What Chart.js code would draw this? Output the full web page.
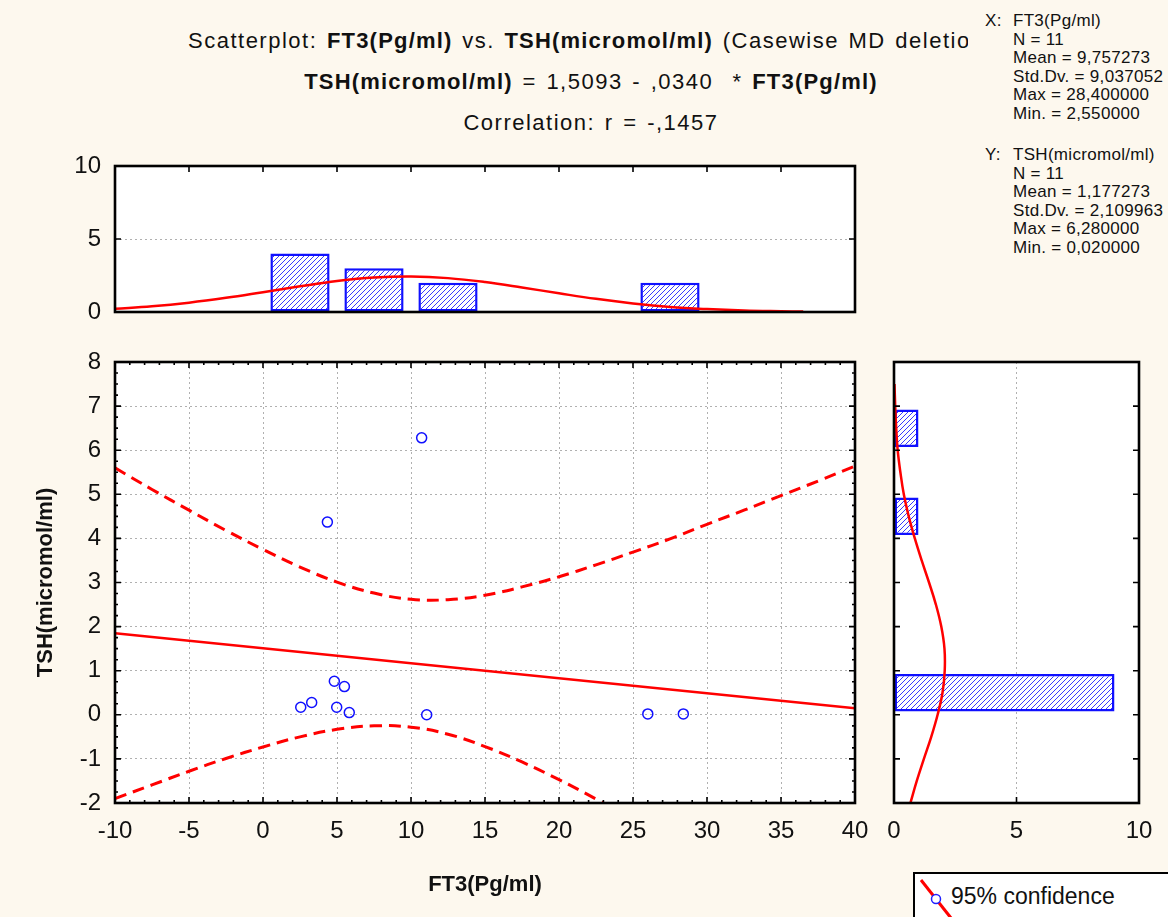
<!DOCTYPE html>
<html>
<head>
<meta charset="utf-8">
<script src="https://cdn.jsdelivr.net/npm/chart.js@4.4.1/dist/chart.umd.min.js"></script>
<style>
  body { margin: 0; background: #fdf8ee; }
  #page { position: relative; width: 1168px; height: 917px; overflow: hidden; background: #fdf8ee;
          font-family: 'Liberation Sans', Arial, sans-serif; color: #111; }
  .cv { position: absolute; }
  .title { position: absolute; font-size: 22px; line-height: 26px; letter-spacing: 1.5px; word-spacing: 2px; white-space: nowrap; }
  .title b { font-weight: bold; letter-spacing: 1.2px; }
  .stats { position: absolute; font-size: 17px; line-height: 18.5px; white-space: nowrap; letter-spacing: 0.3px; }
  .legend { position: absolute; left: 913px; top: 872px; width: 280px; height: 60px; border: 2px solid #000; background: #fff; }
  .legend span { position: absolute; left: 36px; top: 9px; font-size: 23px; }
  .legend svg { position: absolute; left: 2px; top: 2px; }
</style>
</head>
<body>
<div id="page">
  <div class="title" style="left:188px;top:28px;width:780px;overflow:hidden;">Scatterplot: <b>FT3(Pg/ml)</b> vs. <b>TSH(micromol/ml)</b> (Casewise MD deletion)</div>
  <div class="title" style="left:0;width:1182px;text-align:center;top:69px;"><b>TSH(micromol/ml)</b> = 1,5093 - ,0340&nbsp; * <b>FT3(Pg/ml)</b></div>
  <div class="title" style="left:0;width:1182px;text-align:center;top:110px;">Correlation: r = -,1457</div>

  <div class="stats" style="left:985px;top:12px;">X:</div>
  <div class="stats" style="left:1013px;top:12px;">FT3(Pg/ml)<br>N = 11<br>Mean = 9,757273<br>Std.Dv. = 9,037052<br>Max = 28,400000<br>Min. = 2,550000</div>
  <div class="stats" style="left:985px;top:146px;">Y:</div>
  <div class="stats" style="left:1013px;top:146px;">TSH(micromol/ml)<br>N = 11<br>Mean = 1,177273<br>Std.Dv. = 2,109963<br>Max = 6,280000<br>Min. = 0,020000</div>

  <div class="cv" style="left:0;top:140px;"><canvas id="topHist" width="870" height="200"></canvas></div>
  <div class="cv" style="left:0;top:340px;"><canvas id="scatter" width="870" height="577"></canvas></div>
  <div class="cv" style="left:870px;top:340px;"><canvas id="sideHist" width="298" height="577"></canvas></div>

  <div class="legend">
    <svg width="36" height="44"><line x1="4" y1="4" x2="34" y2="42" stroke="#ff0000" stroke-width="3"/><circle cx="19" cy="23" r="4.5" fill="#fff" stroke="#2020ff" stroke-width="1.5"/></svg>
    <span>95% confidence</span>
  </div>
</div>
<script>
// scatter data
const ft3 = [10.72, 4.35, 4.82, 5.5, 2.55, 3.29, 4.98, 5.83, 11.06, 26.0, 28.4];
const tsh = [6.28, 4.37, 0.76, 0.64, 0.17, 0.28, 0.17, 0.05, 0.0, 0.02, 0.02];

// regression line + 95% band
const fitX = [-10, 40];
const fitY = [1.849, 0.149];
const bandX = [-10, -7.5, -5, -2.5, 0, 2.5, 5, 7.5, 10, 12.5, 15, 17.5, 20, 22.5, 25, 27.5, 30, 32.5, 35, 37.5, 40];
const bandUpper = [5.60, 5.11, 4.64, 4.18, 3.75, 3.35, 3.01, 2.76, 2.62, 2.61, 2.71, 2.90, 3.13, 3.40, 3.69, 3.99, 4.32, 4.64, 4.97, 5.30, 5.64];
const bandLower = [-1.90, -1.59, -1.28, -0.99, -0.73, -0.50, -0.33, -0.25, -0.28, -0.44, -0.72, -1.07, -1.47, -1.91, -2.38, -2.85];

// histogram of FT3 (top)
const topBins = [-7.5, -2.5, 2.5, 7.5, 12.5, 17.5, 22.5, 27.5, 32.5, 37.5];
const topCounts = [0, 0, 4, 3, 2, 0, 0, 2, 0, 0];
const topCurveX = [-10, -7.5, -5, -2.5, 0, 2.5, 5, 7.5, 10, 12.5, 15, 17.5, 20, 22.5, 25, 27.5, 30, 32.5, 35, 36.5];
const topCurveY = [0.22, 0.39, 0.64, 0.97, 1.36, 1.76, 2.12, 2.36, 2.43, 2.32, 2.05, 1.68, 1.28, 0.90, 0.59, 0.35, 0.20, 0.10, 0.05, 0.03];

// histogram of TSH (right)
const sideBins = [-1.5, -0.5, 0.5, 1.5, 2.5, 3.5, 4.5, 5.5, 6.5, 7.5];
const sideCounts = [0, 0, 9, 0, 0, 0, 1, 0, 1, 0];
const sideCurveY = [-2, -1.5, -1, -0.5, 0, 0.5, 1, 1.5, 2, 2.5, 3, 3.5, 4, 4.5, 5, 5.5, 6, 6.5, 7, 7.5];
const sideCurveX = [0.67, 0.93, 1.22, 1.52, 1.78, 1.98, 2.07, 2.06, 1.93, 1.71, 1.43, 1.13, 0.85, 0.60, 0.40, 0.26, 0.15, 0.09, 0.05, 0.02];

// tick labels
const mainXTicks = [-10, -5, 0, 5, 10, 15, 20, 25, 30, 35, 40];
const mainYTicks = [-2, -1, 0, 1, 2, 3, 4, 5, 6, 7, 8];
const topYTicks = [0, 5, 10];
const sideXTicks = [0, 5, 10];

const RED = '#ff0000';
const BLUE = '#1010ff';
const tickFont = { family: "'Liberation Sans', Arial, sans-serif", size: 24 };
const titleFont = { family: "'Liberation Sans', Arial, sans-serif", size: 22, weight: 'bold' };
const grid = { color: '#b0b0b0', lineWidth: 1, drawTicks: false };
const border = { display: false, dash: [2, 3] };

function fixedTicks(list) {
    return function(scale) { scale.ticks = list.map(v => ({ value: v })); };
}

// blue diagonal hatching on white
function hatch() {
    const c = document.createElement('canvas');
    c.width = 5; c.height = 5;
    const g = c.getContext('2d');
    g.fillStyle = '#ffffff';
    g.fillRect(0, 0, 5, 5);
    g.fillStyle = '#3a3aff';
    for (let i = 0; i < 5; i++) g.fillRect(i, 4 - i, 1, 1);
    return g.createPattern(c, 'repeat');
}

// white plot area, black frame and inward tick marks
const frame = {
    id: 'frame',
    beforeDraw(chart) {
        const a = chart.chartArea, ctx = chart.ctx;
        ctx.save();
        ctx.fillStyle = '#ffffff';
        ctx.fillRect(a.left, a.top, a.right - a.left, a.bottom - a.top);
        ctx.restore();
    },
    afterDraw(chart, args, opts) {
        const a = chart.chartArea, ctx = chart.ctx;
        ctx.save();
        ctx.strokeStyle = '#000';
        ctx.lineWidth = 1.6;
        (opts.marks || []).forEach(m => {
            const sc = chart.scales[m.axis];
            const n = Math.round((sc.max - sc.min) / m.step);
            for (let i = 0; i <= n; i++) {
                const v = sc.min + i * m.step;
                const p = sc.getPixelForValue(v);
                const r = v / m.major;
                const len = Math.abs(r - Math.round(r)) < 1e-6 ? 6 : 3;
                ctx.beginPath();
                m.sides.forEach(s => {
                    if (s === 'top') { ctx.moveTo(p, a.top); ctx.lineTo(p, a.top + len); }
                    if (s === 'bottom') { ctx.moveTo(p, a.bottom); ctx.lineTo(p, a.bottom - len); }
                    if (s === 'left') { ctx.moveTo(a.left, p); ctx.lineTo(a.left + len, p); }
                    if (s === 'right') { ctx.moveTo(a.right, p); ctx.lineTo(a.right - len, p); }
                });
                ctx.stroke();
            }
        });
        ctx.lineWidth = 2.6;
        ctx.strokeRect(a.left, a.top, a.right - a.left, a.bottom - a.top);
        ctx.restore();
    }
};

Chart.register(frame);
Chart.defaults.animation = false;
Chart.defaults.plugins.legend.display = false;
Chart.defaults.plugins.tooltip.enabled = false;
Chart.defaults.color = '#111';

// Main scatterplot
new Chart(document.getElementById('scatter'), {
    type: 'scatter',
    data: {
        datasets: [{
            data: ft3.map((x, i) => ({ x: x, y: tsh[i] })),
            pointStyle: 'circle',
            pointRadius: 5,
            pointBorderWidth: 1.5,
            pointBorderColor: BLUE,
            pointBackgroundColor: 'rgba(0,0,0,0)'
        }, {
            data: fitX.map((x, i) => ({ x: x, y: fitY[i] })),
            showLine: true, pointRadius: 0, borderColor: RED, borderWidth: 2.5
        }, {
            data: bandX.map((x, i) => ({ x: x, y: bandUpper[i] })),
            showLine: true, pointRadius: 0, borderColor: RED, borderWidth: 3,
            borderDash: [12, 7], tension: 0.4
        }, {
            data: bandLower.map((y, i) => ({ x: bandX[i], y: y })),
            showLine: true, pointRadius: 0, borderColor: RED, borderWidth: 3,
            borderDash: [12, 7], tension: 0.4
        }]
    },
    options: {
        responsive: false,
        devicePixelRatio: 1,
        layout: { padding: { top: 22, right: 15, left: 0, bottom: 0 } },
        scales: {
            x: {
                type: 'linear', min: -10, max: 40,
                afterBuildTicks: fixedTicks(mainXTicks),
                afterFit: s => { s.height = 114; s.paddingLeft = 0; s.paddingRight = 0; },
                grid: grid, border: border,
                ticks: { font: tickFont, padding: 14, maxRotation: 0 },
                title: { display: true, text: 'FT3(Pg/ml)', font: titleFont, padding: { bottom: 19 } }
            },
            y: {
                type: 'linear', min: -2, max: 8,
                afterBuildTicks: fixedTicks(mainYTicks),
                afterFit: s => { s.width = 115; s.paddingTop = 0; s.paddingBottom = 0; },
                grid: grid, border: border,
                ticks: { font: tickFont, padding: 14 },
                title: { display: true, text: 'TSH(micromol/ml)', font: titleFont, padding: { top: 33 } }
            }
        },
        plugins: {
            frame: { marks: [
                { axis: 'x', step: 1, major: 5, sides: ['top', 'bottom'] },
                { axis: 'y', step: 0.25, major: 1, sides: ['left', 'right'] }
            ] }
        }
    }
});

// Top histogram (FT3)
new Chart(document.getElementById('topHist'), {
    type: 'bar',
    data: {
        datasets: [{
            type: 'line',
            data: topCurveX.map((x, i) => ({ x: x, y: topCurveY[i] })),
            borderColor: RED, borderWidth: 2.5, pointRadius: 0, tension: 0.4
        }, {
            type: 'bar',
            data: topBins.map((x, i) => ({ x: x, y: topCounts[i] })),
            backgroundColor: hatch(),
            borderColor: BLUE, borderWidth: 2.5, borderSkipped: false,
            barPercentage: 0.8, categoryPercentage: 1
        }]
    },
    options: {
        responsive: false,
        devicePixelRatio: 1,
        layout: { padding: { top: 26, right: 15, left: 0, bottom: 28 } },
        scales: {
            x: { type: 'linear', min: -10, max: 40, offset: false, display: false },
            y: {
                min: 0, max: 10,
                afterBuildTicks: fixedTicks(topYTicks),
                afterFit: s => { s.width = 115; s.paddingTop = 0; s.paddingBottom = 0; },
                grid: grid, border: border,
                ticks: { font: tickFont, padding: 14 }
            }
        },
        plugins: {
            frame: { marks: [
                { axis: 'x', step: 5, major: 5, sides: ['top'] },
                { axis: 'y', step: 5, major: 5, sides: ['left', 'right'] }
            ] }
        }
    }
});

// Side histogram (TSH)
new Chart(document.getElementById('sideHist'), {
    type: 'bar',
    data: {
        datasets: [{
            type: 'line',
            indexAxis: 'y',
            data: sideCurveY.map((y, i) => ({ x: sideCurveX[i], y: y })),
            borderColor: RED, borderWidth: 2.5, pointRadius: 0, tension: 0.4
        }, {
            type: 'bar',
            data: sideBins.map((y, i) => ({ x: sideCounts[i], y: y })),
            backgroundColor: hatch(),
            borderColor: BLUE, borderWidth: 2.5, borderSkipped: false,
            barPercentage: 0.85, categoryPercentage: 1
        }]
    },
    options: {
        indexAxis: 'y',
        responsive: false,
        devicePixelRatio: 1,
        layout: { padding: { top: 22, right: 29, left: 24, bottom: 0 } },
        scales: {
            x: {
                type: 'linear', min: 0, max: 10,
                afterBuildTicks: fixedTicks(sideXTicks),
                afterFit: s => { s.height = 114; s.paddingLeft = 0; s.paddingRight = 0; },
                grid: grid, border: border,
                ticks: { font: tickFont, padding: 14, maxRotation: 0 }
            },
            y: { type: 'linear', min: -2, max: 8, offset: false, display: false }
        },
        plugins: {
            frame: { marks: [
                { axis: 'x', step: 5, major: 5, sides: ['bottom'] },
                { axis: 'y', step: 1, major: 1, sides: ['right', 'left'] }
            ] }
        }
    }
});
</script>
</body>
</html>
